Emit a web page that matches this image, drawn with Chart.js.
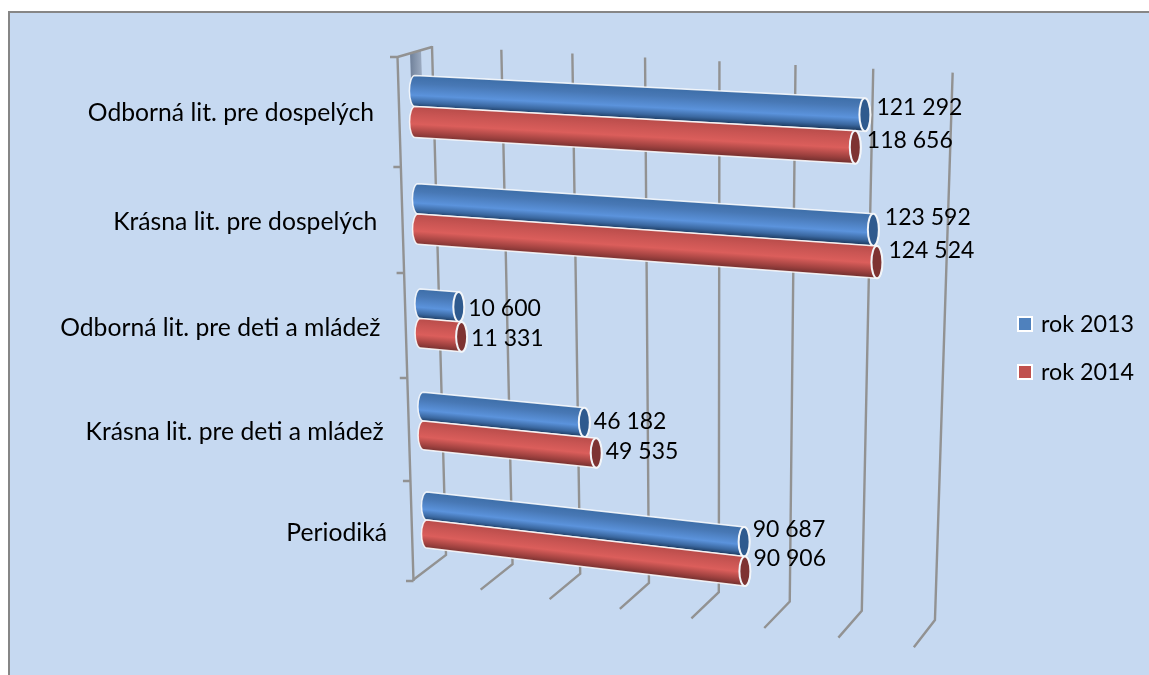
<!DOCTYPE html>
<html lang="sk">
<head>
<meta charset="utf-8">
<style>html,body{margin:0;padding:0;background:#fff}canvas{display:block}</style>
<script src="https://cdn.jsdelivr.net/npm/chart.js@4"></script>
</head>
<body>
<canvas id="c" width="1149" height="675"></canvas>
<script>
const categories = ['Odborná lit. pre dospelých','Krásna lit. pre dospelých','Odborná lit. pre deti a mládež','Krásna lit. pre deti a mládež','Periodiká'];
const seriesNames = ['rok 2013','rok 2014'];
const values2013 = [121292,123592,10600,46182,90687];
const values2014 = [118656,124524,11331,49535,90906];
const axisMax = 140000;
const axisStep = 20000;

/* view geometry of the tilted 3D plot, per category row */
const rowStartX = [415,418,420.5,423.5,427];
const rowMidY = [106.5,214,318.5,421,520];
const rowPxPerK = [3.71,3.685,3.62,3.485,3.497];
const rowLabelDy = [-.018,-.028,0.01,-.012,-.042];
const rowLabelDx = [11.5,11.5,9.5,9.5,8.5];
const FONT = 'Lato';

function project(chart, xPix, yPix){
  const {x:xs, y:ys} = chart.scales;
  const n = categories.length;
  const r = (yPix-ys.top)/(ys.bottom-ys.top)*n - .5;
  const row = Math.max(0, Math.min(n-1, Math.round(r)));
  const d = r-row;
  const val = xs.getValueForPixel(xPix);
  const x0 = rowStartX[row] + (rowStartX[Math.min(row+1,n-1)]-rowStartX[row])*d*.2;
  const dx = val/1000*rowPxPerK[row];
  const thick = (31-.75*row)/.29;
  const slope = .055 + .015*r;
  return {x:x0+dx, y:rowMidY[row]+d*thick+slope*dx};
}
const wall = {
  topX:t=>432+68.5*t+.84*t*t, topY:t=>46+3.8*t,
  botX:t=>446+66*t+.55*t*t,   botY:t=>555+9.3*t,
  frontX:t=>413+67*t+.65*t*t, frontY:t=>580+9.6*t
};
const palette = [
 {stops:[[0,'#3d6ea8'],[.25,'#4878b5'],[.62,'#5b93dc'],[.85,'#3a679f'],[1,'#1e3c62']],cap:'#2f5a8e',flat:'#4f81bd'},
 {stops:[[0,'#b84c4a'],[.25,'#c95553'],[.55,'#db5e5b'],[.85,'#9c403e'],[1,'#763130']],cap:'#7e3332',flat:'#c0504d'}
];
const fmt = v => String(v).replace(/\B(?=(\d{3})+$)/g,' ');

const plot3d = {
  id:'plot3d',
  beforeDraw(chart){
    const c = chart.ctx;
    c.fillStyle='#fff'; c.fillRect(0,0,chart.width,chart.height);
    c.fillStyle='#c6d9f1'; c.fillRect(9,12,chart.width-9,chart.height-12);
    c.fillStyle='#868686'; c.fillRect(8,11,chart.width-8,2); c.fillRect(8,11,2,chart.height-11);
  },
  beforeDatasetsDraw(chart){
    const c = chart.ctx, xs = chart.scales.x;
    c.save();
    c.lineCap='butt'; c.lineJoin='miter';
    c.strokeStyle='#929292'; c.lineWidth=2.4;
    /* shaded patch behind first bar */
    const g = c.createLinearGradient(410,0,422,0);
    g.addColorStop(0,'#6f8099'); g.addColorStop(1,'#9dacc2');
    c.fillStyle=g;
    c.beginPath(); c.moveTo(410,53); c.lineTo(421,50); c.lineTo(422,80); c.lineTo(411,80); c.closePath(); c.fill();
    /* side axis and tick marks */
    c.beginPath();
    c.moveTo(397.5,57); c.lineTo(413.5,581);
    const sideTicks = categories.length+1;
    for(let i=0;i<sideTicks;i++){
      const y = 57+ [0,110,216,321,424,524][i];
      const x = 397.5+(y-57)*16/524;
      c.moveTo(x,y); c.lineTo(x-7.5,y);
    }
    c.moveTo(397.5,57); c.lineTo(432,47);
    c.stroke();
    /* gridlines from the value scale ticks */
    xs.ticks.forEach(tick=>{
      const t = (xs.getPixelForValue(tick.value)-xs.left)/(xs.right-xs.left)*(axisMax/axisStep);
      c.beginPath();
      c.moveTo(wall.topX(t),wall.topY(t));
      c.lineTo(wall.botX(t),wall.botY(t));
      c.lineTo(wall.frontX(t),wall.frontY(t));
      c.stroke();
    });
    c.restore();
    /* bars */
    const order = [0,1];
    categories.forEach((_,i)=>{
      order.forEach(ds=>{
        const el = chart.getDatasetMeta(ds).data[i];
        const h = el.height/2;
        const tl = project(chart,el.base,el.y-h), bl = project(chart,el.base,el.y+h);
        const tr = project(chart,el.x,el.y-h),  br = project(chart,el.x,el.y+h);
        const pal = palette[ds];
        const ang = Math.atan2(tr.y-tl.y,tr.x-tl.x);
        const ry1=Math.hypot(bl.x-tl.x,bl.y-tl.y)/2, ry2=Math.hypot(br.x-tr.x,br.y-tr.y)/2;
        const cl={x:(tl.x+bl.x)/2,y:(tl.y+bl.y)/2}, cr={x:(tr.x+br.x)/2,y:(tr.y+br.y)/2};
        const rx=5.5;
        const axis=Math.atan2(bl.y-tl.y,bl.x-tl.x)-Math.PI/2;
        c.save();
        c.beginPath();
        c.ellipse(cl.x,cl.y,rx,ry1,axis,-Math.PI/2,Math.PI/2,true);
        c.ellipse(cr.x,cr.y,rx,ry2,axis,Math.PI/2,-Math.PI/2,true);
        c.closePath();
        const mx=(tl.x+tr.x)/2,my=(tl.y+tr.y)/2,bx=(bl.x+br.x)/2,by=(bl.y+br.y)/2;
        const nx=-Math.sin(ang),ny=Math.cos(ang),len=(bx-mx)*nx+(by-my)*ny;
        const gr=c.createLinearGradient(mx,my,mx+nx*len,my+ny*len);
        pal.stops.forEach(s=>gr.addColorStop(s[0],s[1]));
        c.fillStyle=gr; c.fill();
        c.strokeStyle='rgba(255,255,255,.85)'; c.lineWidth=1.5; c.stroke();
        c.beginPath();
        c.ellipse(cr.x,cr.y,rx,ry2,axis,0,Math.PI*2);
        c.fillStyle=pal.cap; c.fill();
        c.strokeStyle='#f2f5f9'; c.lineWidth=2; c.stroke();
        c.restore();
      });
    });
    return false;
  },
  afterDraw(chart){
    const c = chart.ctx;
    c.save();
    c.fillStyle='#000'; c.textBaseline='middle'; c.font=`23px ${FONT}`;
    categories.forEach((_,i)=>{
      chart.data.datasets.forEach((ds,k)=>{
        const el = chart.getDatasetMeta(k).data[i];
        const a = project(chart,el.x,el.y);
        const len = a.x-project(chart,el.base,el.y).x;
        c.textAlign='left';
        c.fillText(fmt(ds.data[i]), a.x+rowLabelDx[i], a.y+len*rowLabelDy[i]+1);
      });
    });
    c.textAlign='right';
    c.font=`24.7px ${FONT}`;
    chart.data.labels.forEach((lab,i)=>{
      c.fillText(lab, 374+3.25*i, rowMidY[i]+7+1.5*i);
    });
    c.textAlign='left';
    c.font=`23.3px ${FONT}`;
    seriesNames.forEach((nm,k)=>{
      const y = 324+48*k;
      c.fillStyle='#fff'; c.fillRect(1017,y-8,16,16);
      c.fillStyle=palette[k].flat; c.fillRect(1019,y-6,12,12);
      c.fillStyle='#000'; c.fillText(nm,1041,y);
    });
    c.restore();
  }
};

new Chart(document.getElementById('c'),{
  type:'bar',
  data:{labels:categories,datasets:[
    {label:seriesNames[0],data:values2013,backgroundColor:'#4f81bd'},
    {label:seriesNames[1],data:values2014,backgroundColor:'#c0504d'}
  ]},
  options:{
    indexAxis:'y',responsive:false,animation:false,
    layout:{padding:0},
    datasets:{bar:{barPercentage:1,categoryPercentage:.58}},
    plugins:{legend:{display:false},tooltip:{enabled:false}},
    scales:{
      x:{display:false,min:0,max:axisMax,ticks:{stepSize:axisStep}},
      y:{display:false}
    }
  },
  plugins:[plot3d]
});
</script>
</body>
</html>
